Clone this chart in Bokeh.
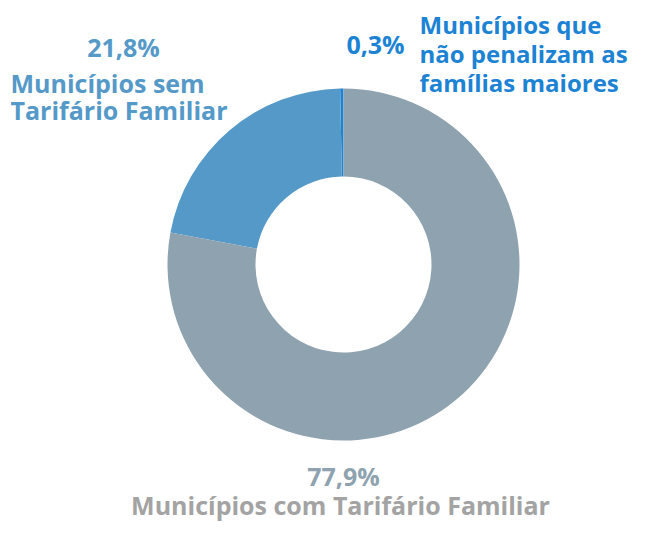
import math
from bokeh.plotting import figure
from bokeh.models import Range1d
from bokeh.core.properties import value
from bokeh.embed import file_html
from bokeh.resources import INLINE

# Data (counterclockwise from 12 o'clock)
categories = ["Municípios que não penalizam as famílias maiores",
              "Municípios sem Tarifário Familiar",
              "Municípios com Tarifário Familiar"]
shares = [0.3, 21.8, 77.9]
pct_labels = ["0,3%", "21,8%", "77,9%"]
colors = ["#1C82D4", "#5499C8", "#8EA2AF"]

W, H = 629, 526
p = figure(width=W, height=H, output_backend="svg", toolbar_location=None,
           x_range=Range1d(0, W), y_range=Range1d(542 - H, 542),
           min_border=0, border_fill_color="white", background_fill_color="white")
p.axis.visible = False
p.grid.visible = False
p.outline_line_color = None

DY = -9  # empirical baseline correction

def Y(y_img):
    return 542 - y_img

cx, cy = 343, Y(264)
total = sum(shares)
start = math.pi / 2
for s, c in zip(shares, colors):
    end = start + 2 * math.pi * s / total
    p.annular_wedge(x=cx, y=cy, inner_radius=88, outer_radius=176,
                    inner_radius_units="screen", outer_radius_units="screen",
                    start_angle=start, end_angle=end, color=c, line_color=None)
    start = end

font = value("Open Sans")

def txt(x, y, t, color, size, align="left"):
    p.text(x=[x], y=[Y(y + DY)], text=[t], text_color=color, text_font=font,
           text_font_size=size, text_font_style="bold", text_align=align,
           text_baseline="alphabetic")

# 21,8% label
txt(123, 55, pct_labels[1], "#5499C8", "25px", "center")
txt(10, 91, "Municípios sem", "#5499C8", "25px")
txt(10, 118, "Tarifário Familiar", "#5499C8", "25px")

# 0,3% label
txt(375, 52, pct_labels[0], "#1C82D4", "25px", "center")
txt(419, 33, "Municípios que", "#1C82D4", "24px")
txt(419, 62, "não penalizam as", "#1C82D4", "24px")
txt(419, 91, "famílias maiores", "#1C82D4", "24px")

# 77,9% label
txt(343, 484, pct_labels[2], "#8EA2AF", "25px", "center")
txt(340, 513, "Municípios com Tarifário Familiar", "#A3A3A3", "25px", "center")

open("out.html", "w").write(file_html(p, INLINE))
